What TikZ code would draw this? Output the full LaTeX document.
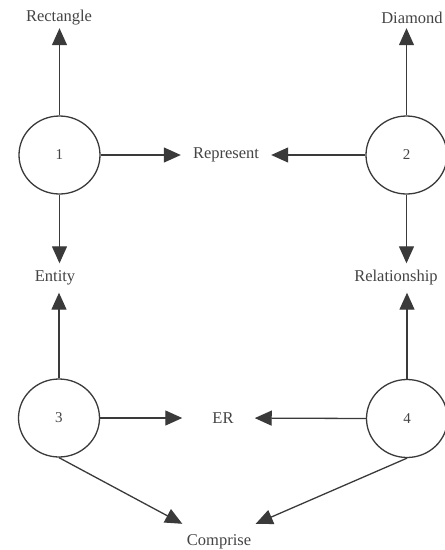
\documentclass[tikz,border=0pt]{standalone}
\usepackage{fontspec}
\setmainfont{Liberation Serif}
\usetikzlibrary{arrows.meta,shapes.geometric}
\definecolor{ink}{HTML}{3A3A3A}
\definecolor{txt}{HTML}{444444}
\tikzset{
  stepcirc/.style={ellipse,draw=ink,line width=1.3pt,minimum width=81pt,minimum height=78pt,inner sep=0pt,text=txt,font=\fontsize{15}{18}\selectfont},
  lbl/.style={inner sep=0pt,text=txt,font=\fontsize{16.5}{19}\selectfont},
  arr/.style={draw=ink,line width=1.3pt,-{Triangle[length=17pt,width=15pt]}}
}
\begin{document}
\begin{tikzpicture}[x=1pt,y=-1pt]
\useasboundingbox (0,0) rectangle (445,550);
\node[stepcirc] (c1) at (59.5,155) {1};
\node[stepcirc] (c2) at (406.5,155) {2};
\node[stepcirc] (c3) at (59,418) {3};
\node[stepcirc] (c4) at (407,418.5) {4};
\node[lbl,minimum height=20pt] (rect) at (59,18) {Rectangle};
\node[lbl,minimum height=20pt] (dia) at (412,18) {Diamond};
\node[lbl,minimum width=90pt] (rep) at (226,155) {Represent};
\node[lbl,minimum height=29pt] (ent) at (55,278) {Entity};
\node[lbl,minimum height=29pt] (rel) at (396,278) {Relationship};
\node[lbl] (er) at (223,418) {ER};
\node[lbl,minimum width=73pt,minimum height=36pt] (cmp) at (219,542) {Comprise};
\draw[arr] (c1.north) -- (c1.north |- rect.south);
\draw[arr] (c2.north) -- (c2.north |- dia.south);
\draw[arr] (c1.east) -- (rep.west);
\draw[arr] (c2.west) -- (rep.east);
\draw[arr] (c1.south) -- (c1.south |- ent.north);
\draw[arr] (c3.north) -- (c3.north |- ent.south);
\draw[arr] (c2.south) -- (c2.south |- rel.north);
\draw[arr] (c4.north) -- (c4.north |- rel.south);
\draw[arr,shorten >=30pt] (c3.east) -- (er.west);
\draw[arr,shorten >=21pt] (c4.west) -- (er.east);
\draw[arr] (c3.south) -- (cmp.north west);
\draw[arr] (c4.south) -- (cmp.north east);
\end{tikzpicture}
\end{document}
